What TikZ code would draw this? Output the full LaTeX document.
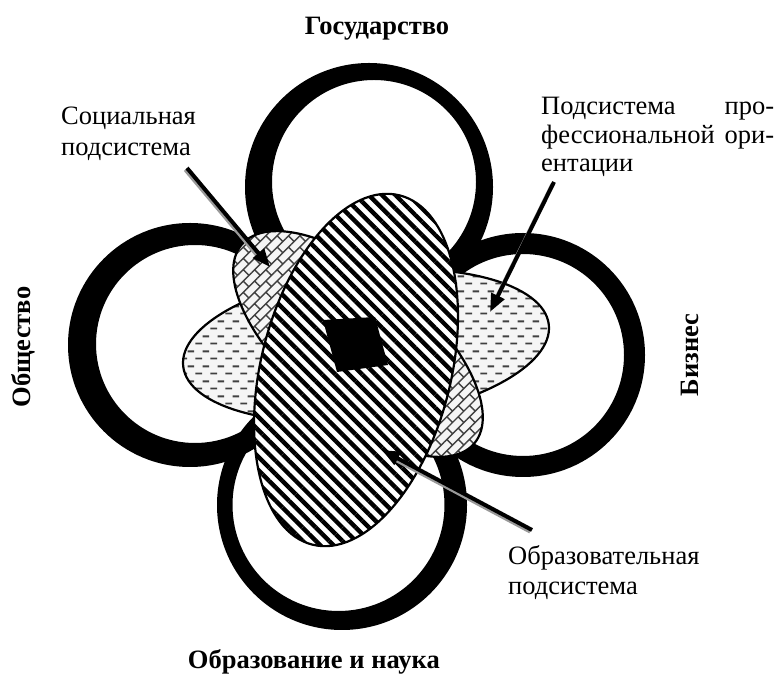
\documentclass[tikz,border=0pt]{standalone}
\usepackage{fontspec}
\setmainfont{Liberation Serif}
\usetikzlibrary{patterns.meta,arrows.meta}

\pgfdeclarepattern{
  name=hdash, type=uncolored,
  bottom left={\pgfpoint{0pt}{0pt}},
  top right={\pgfpoint{15pt}{15pt}},
  tile size={\pgfpoint{15pt}{15pt}},
  code={
    \pgfsetlinewidth{2pt}
    \pgfpathmoveto{\pgfpoint{0.5pt}{3.75pt}}\pgfpathlineto{\pgfpoint{7.5pt}{3.75pt}}
    \pgfpathmoveto{\pgfpoint{8pt}{11.25pt}}\pgfpathlineto{\pgfpoint{15pt}{11.25pt}}
    \pgfusepath{stroke}
  }
}
\pgfdeclarepattern{
  name=dbrick, type=uncolored,
  bottom left={\pgfpoint{-1pt}{-1pt}},
  top right={\pgfpoint{17pt}{17pt}},
  tile size={\pgfpoint{16pt}{16pt}},
  tile transformation={\pgftransformrotate{45}},
  code={
    \pgfsetlinewidth{1.4pt}
    \pgfpathmoveto{\pgfpoint{0pt}{4pt}}\pgfpathlineto{\pgfpoint{16pt}{4pt}}
    \pgfpathmoveto{\pgfpoint{0pt}{12pt}}\pgfpathlineto{\pgfpoint{16pt}{12pt}}
    \pgfpathmoveto{\pgfpoint{4pt}{4pt}}\pgfpathlineto{\pgfpoint{4pt}{12pt}}
    \pgfpathmoveto{\pgfpoint{12pt}{12pt}}\pgfpathlineto{\pgfpoint{12pt}{16pt}}
    \pgfpathmoveto{\pgfpoint{12pt}{0pt}}\pgfpathlineto{\pgfpoint{12pt}{4pt}}
    \pgfusepath{stroke}
  }
}

\begin{document}
\begin{tikzpicture}[x=1pt,y=1pt,
  ringc/.style={fill=black, even odd rule},
  outl/.style={draw=black, line width=2.2pt},
  lbl/.style={inner sep=0pt, font=\fontsize{26.5}{30}\selectfont},
  blbl/.style={inner sep=0pt, font=\fontsize{26.5}{30}\selectfont\bfseries},
  arr/.style={line width=4pt, -{Triangle[length=18pt,width=14pt]}},
  shd/.style={line width=3pt, black!40, shorten >=14pt}
]
\useasboundingbox (0,0) rectangle (776,677);

% rings
\fill[ringc] (369,490) circle[radius=124] (374,495) circle[radius=102];
\fill[ringc] (190,332) circle[radius=122] (195,333) circle[radius=99];
\fill[ringc] (523,322) circle[radius=122] (523,322) circle[radius=101];
\fill[ringc] (342,172) circle[radius=125] (338.5,172) circle[radius=106];

% dashed ellipse
\path[outl, preaction={fill=black!4}, pattern=hdash, pattern color=black!75]
  (366,331.5) ellipse[x radius=184, y radius=74, rotate=6.5];
% brick ellipse
\path[outl, preaction={fill=black!4}, pattern=dbrick, pattern color=black!75]
  (358,333) ellipse[x radius=153, y radius=70, rotate=-40.6];
% hatched ellipse
\path[outl, preaction={fill=white}, pattern={Lines[angle=-45,distance=9.4pt,line width=4.4pt]}, pattern color=black]
  (356,307) ellipse[x radius=95, y radius=180, rotate=-14];
% black centre
\fill (323,357) -- (375,360) -- (388,312) -- (337,305) -- cycle;

% labels
\node[blbl, anchor=base] (gos) at (377,642) {Государство};
\node[blbl, anchor=base east] (obr) at (440,9) {Образование и наука};
\node[blbl, rotate=90] (obs) at (23,330) {Общество};
\node[blbl, rotate=90] (biz) at (690,322) {Бизнес};
\node[lbl, anchor=base west] (soc) at (61,552)
  {\fontsize{26.5}{30.5}\selectfont\parbox[t]{150pt}{Социальная\\подсистема}};
\node[lbl, anchor=base west] (prof) at (541,562)
  {\fontsize{26.5}{28.5}\selectfont\parbox[t]{233pt}{\makebox[\linewidth][s]{Подсистема про-}\\\makebox[\linewidth][s]{фессиональной ори-}\\ентации}};
\node[lbl, anchor=base west] (edu) at (508,112)
  {\fontsize{26.5}{30}\selectfont\parbox[t]{200pt}{Образовательная\\подсистема}};

% arrows
\coordinate (s1) at (187,509); \coordinate (t1) at (270,410);
\coordinate (s2) at (554,495); \coordinate (t2) at (490,365);
\coordinate (s3) at (532,147); \coordinate (t3) at (382,227);
\foreach \s/\t in {s1/t1,s2/t2,s3/t3}{
  \draw[shd] ([shift={(-2,-2)}]\s) -- ([shift={(-2,-2)}]\t);
  \draw[arr] (\s) -- (\t);
}
\end{tikzpicture}
\end{document}
